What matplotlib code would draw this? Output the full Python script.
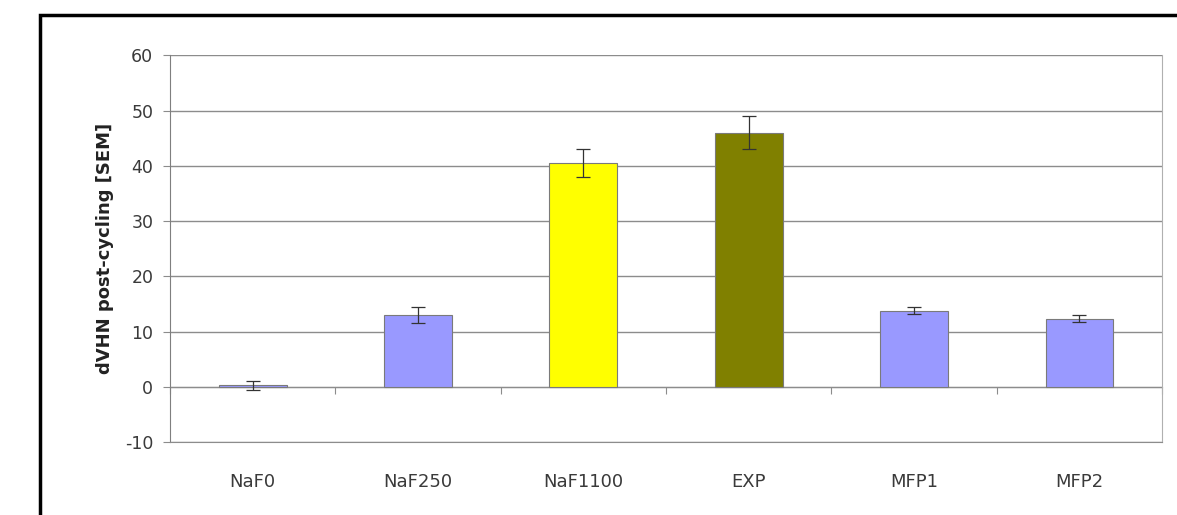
import numpy as np
import matplotlib
matplotlib.use("Agg")
import matplotlib.pyplot as plt
from matplotlib.patches import Rectangle

# Dados
grupos = ["NaF0", "NaF250", "NaF1100", "EXP", "MFP1", "MFP2"]
dvhn = [0.3, 13.0, 40.5, 46.0, 13.8, 12.3]
sem = [0.8, 1.5, 2.6, 3.0, 0.7, 0.6]
cores = ["#9999FF", "#9999FF", "#FFFF00", "#808000", "#9999FF", "#9999FF"]

plt.rcParams["font.family"] = ["DejaVu Sans"]
plt.rcParams["axes.unicode_minus"] = False

fig = plt.figure(figsize=(11.77, 5.15), dpi=100)
ax = fig.add_axes([0.1444, 0.1417, 0.843, 0.751])

x = np.arange(len(grupos))
ax.bar(x, dvhn, width=0.41, color=cores, edgecolor="#7a7a7a", linewidth=0.8, zorder=3)
ax.errorbar(x, dvhn, yerr=sem, fmt="none", ecolor="#333333", elinewidth=0.9,
            capsize=5, capthick=0.9, zorder=4)

# Eixos e grade
ax.set_xlim(-0.5, len(grupos) - 0.5)
ax.set_ylim(-10, 60)
ax.set_yticks(range(-10, 61, 10))
ax.yaxis.grid(True, color="#8c8c8c", linewidth=1.0, zorder=0)
ax.tick_params(axis="y", labelsize=12.5, colors="#3a3a3a", length=5, width=0.8,
               color="#8c8c8c", pad=7)
ax.set_xticks(x)
ax.set_xticklabels(grupos, fontsize=13, color="#3a3a3a")
ax.tick_params(axis="x", length=0, pad=22)

ax.spines["top"].set_visible(False)
ax.spines["bottom"].set_color("#8c8c8c")
ax.spines["left"].set_color("#7f7f7f")
ax.spines["right"].set_color("#b0b0b0")

# Eixo de categorias cruzando em y=0 com marcas nas divisões
eixo0 = ax.secondary_xaxis(0, transform=ax.transData)
eixo0.set_xticks(np.arange(len(grupos) + 1) - 0.5)
eixo0.set_xticklabels([])
eixo0.tick_params(length=5, width=0.8, color="#8c8c8c")
eixo0.spines["bottom"].set_color("#8c8c8c")

ax.set_ylabel("dVHN post-cycling [SEM]", fontsize=13, fontweight="bold",
              color="#222222", labelpad=8)

# Moldura externa preta
fig.patches.append(Rectangle((40 / 1177, -0.1), 1.2, 1 - 15 / 515 + 0.1,
                             transform=fig.transFigure, fill=False,
                             edgecolor="black", linewidth=2.5))

plt.savefig("out.png", dpi=100)
